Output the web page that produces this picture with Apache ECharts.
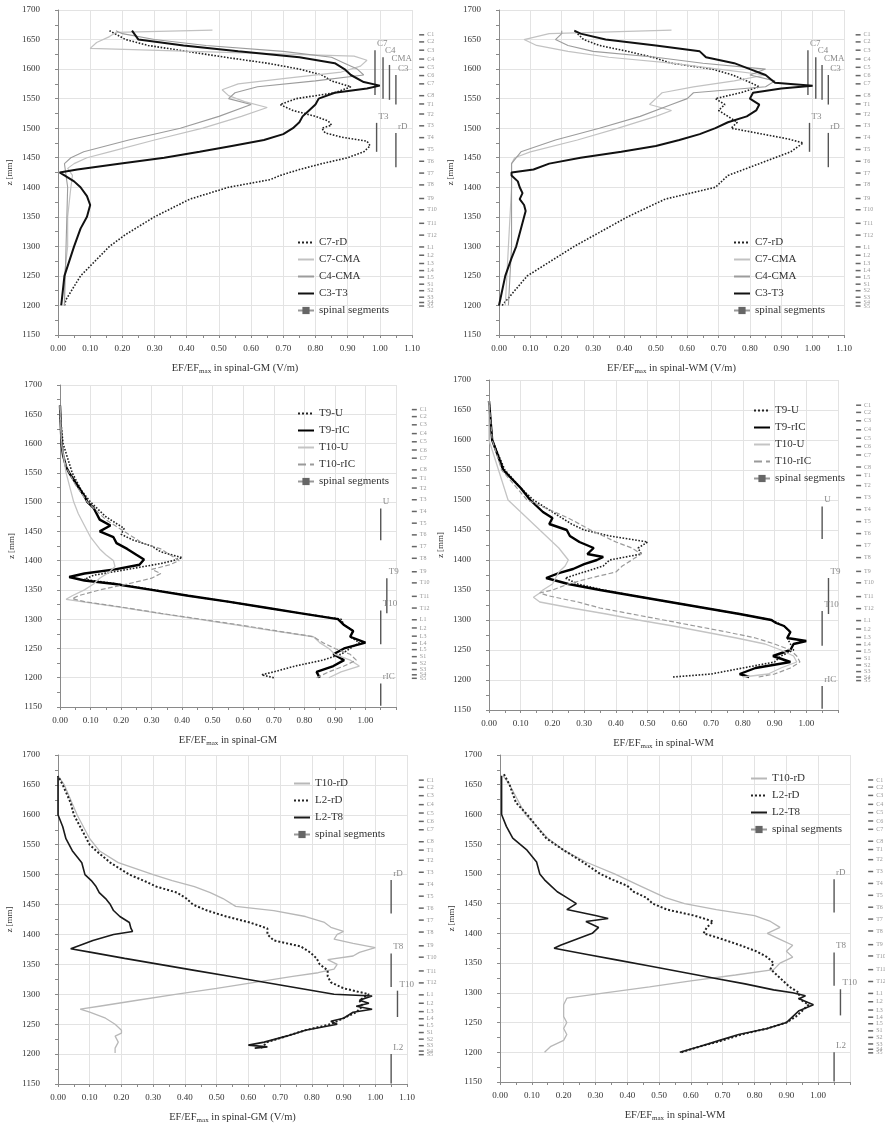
<!DOCTYPE html>
<html><head><meta charset="utf-8">
<script src="https://cdn.jsdelivr.net/npm/echarts@6/dist/echarts.min.js"></script>
<style>html,body{margin:0;padding:0;background:#fff}#c{width:885px;height:1126px}</style>
</head><body><div id="c"></div>
<script>
// ---------- DATA ----------
const xTicks = [0,0.1,0.2,0.3,0.4,0.5,0.6,0.7,0.8,0.9,1.0,1.1];
const yTicks = [1150,1200,1250,1300,1350,1400,1450,1500,1550,1600,1650,1700];
const segNames = ['C1','C2','C3','C4','C5','C6','C7','C8','T1','T2','T3','T4','T5','T6','T7','T8','T9','T10','T11','T12','L1','L2','L3','L4','L5','S1','S2','S3','S4','S5'];
const segZ = [1658,1646,1632,1617,1603,1589,1575,1555,1541,1524,1504,1484,1464,1444,1424,1404,1381,1362,1339,1319,1299,1285,1271,1259,1248,1236,1225,1214,1205,1199];

// electrodes: [label, z top, z bottom]
const elecCerv = [['C7',1632,1556],['C4',1620,1550],['CMA',1607,1548],['C3',1590,1540],['T3',1509,1460],['rD',1492,1434]];
const elecThor = [['U',1489,1435],['T9',1370,1310],['T10',1315,1257],['rIC',1190,1152]];
const elecLumb = [['rD',1491,1435],['T8',1368,1312],['T10',1306,1262],['L2',1200,1151]];

// curves: [z (mm), EF/EFmax]
const gmC_C7_rD = [[1200,0.02],[1210,0.025],[1250,0.07],[1300,0.16],[1320,0.21],[1350,0.30],[1380,0.41],[1400,0.53],[1413,0.66],[1420,0.69],[1430,0.75],[1440,0.82],[1450,0.90],[1460,0.95],[1470,0.97],[1478,0.96],[1485,0.88],[1492,0.83],[1500,0.82],[1505,0.85],[1512,0.84],[1520,0.80],[1530,0.73],[1540,0.69],[1550,0.74],[1560,0.86],[1570,0.91],[1580,0.85],[1590,0.82],[1600,0.75],[1610,0.65],[1620,0.52],[1630,0.40],[1640,0.28],[1650,0.21],[1665,0.16]];
const gmC_C7_CMA = [[1200,0.02],[1250,0.02],[1300,0.03],[1350,0.03],[1400,0.04],[1420,0.045],[1432,0.03],[1440,0.05],[1450,0.09],[1460,0.16],[1480,0.30],[1500,0.45],[1520,0.57],[1535,0.65],[1545,0.58],[1555,0.53],[1565,0.51],[1575,0.56],[1585,0.72],[1595,0.88],[1605,0.94],[1615,0.96],[1622,0.92],[1628,0.55],[1635,0.10],[1645,0.12],[1655,0.16],[1662,0.18],[1666,0.48]];
const gmC_C4_CMA = [[1200,0.02],[1300,0.025],[1400,0.03],[1440,0.02],[1450,0.04],[1460,0.08],[1480,0.22],[1500,0.38],[1520,0.50],[1540,0.60],[1550,0.53],[1560,0.55],[1570,0.62],[1580,0.80],[1590,0.95],[1600,0.93],[1610,0.89],[1620,0.85],[1630,0.70],[1640,0.46],[1650,0.30],[1660,0.20],[1665,0.18]];
const gmC_C3_T3 = [[1200,0.01],[1250,0.02],[1300,0.05],[1330,0.07],[1350,0.09],[1370,0.10],[1385,0.09],[1400,0.07],[1410,0.05],[1420,0.02],[1425,0.005],[1430,0.06],[1440,0.19],[1450,0.33],[1460,0.44],[1470,0.54],[1480,0.64],[1490,0.70],[1500,0.73],[1510,0.75],[1520,0.76],[1530,0.78],[1540,0.80],[1550,0.81],[1560,0.86],[1567,0.96],[1572,1.0],[1578,0.95],[1590,0.91],[1600,0.89],[1610,0.86],[1620,0.75],[1630,0.56],[1640,0.39],[1650,0.25],[1665,0.23]];

const wmC_C7_rD = [[1200,0.01],[1250,0.09],[1300,0.24],[1350,0.41],[1380,0.53],[1400,0.69],[1420,0.73],[1440,0.83],[1460,0.93],[1475,0.97],[1482,0.92],[1490,0.84],[1500,0.74],[1510,0.76],[1520,0.73],[1530,0.70],[1540,0.72],[1550,0.69],[1560,0.77],[1570,0.83],[1580,0.79],[1590,0.745],[1600,0.68],[1610,0.55],[1620,0.49],[1630,0.41],[1640,0.32],[1650,0.27],[1665,0.24]];
const wmC_C7_CMA = [[1200,0.02],[1300,0.03],[1400,0.04],[1440,0.04],[1450,0.05],[1460,0.10],[1480,0.25],[1500,0.38],[1520,0.50],[1530,0.55],[1540,0.48],[1550,0.50],[1560,0.52],[1570,0.62],[1580,0.75],[1590,0.85],[1600,0.70],[1610,0.55],[1620,0.35],[1630,0.22],[1640,0.12],[1650,0.08],[1660,0.16],[1666,0.55]];
const wmC_C4_CMA = [[1200,0.03],[1300,0.04],[1400,0.04],[1440,0.04],[1460,0.07],[1480,0.18],[1500,0.32],[1520,0.45],[1540,0.55],[1550,0.60],[1560,0.62],[1570,0.85],[1580,0.88],[1590,0.80],[1600,0.85],[1610,0.65],[1620,0.50],[1630,0.30],[1640,0.22],[1650,0.18],[1660,0.20],[1665,0.20]];
const wmC_C3_T3 = [[1200,0.0],[1250,0.02],[1280,0.04],[1300,0.055],[1320,0.065],[1340,0.075],[1360,0.085],[1370,0.08],[1380,0.066],[1390,0.075],[1400,0.066],[1410,0.06],[1420,0.04],[1425,0.04],[1430,0.11],[1440,0.16],[1450,0.26],[1460,0.39],[1470,0.50],[1480,0.575],[1490,0.64],[1500,0.69],[1510,0.73],[1520,0.79],[1530,0.82],[1540,0.83],[1550,0.80],[1560,0.81],[1567,0.90],[1572,1.0],[1577,0.88],[1590,0.85],[1600,0.80],[1610,0.75],[1620,0.66],[1630,0.64],[1640,0.50],[1650,0.34],[1660,0.26],[1665,0.24]];

const gmT_T9_U = [[1200,0.70],[1205,0.66],[1210,0.70],[1220,0.77],[1230,0.86],[1240,0.92],[1250,0.95],[1260,0.98],[1270,0.95],[1280,0.96],[1290,0.93],[1300,0.92],[1310,0.79],[1320,0.67],[1330,0.55],[1340,0.42],[1350,0.31],[1360,0.19],[1368,0.08],[1375,0.11],[1385,0.22],[1395,0.33],[1400,0.37],[1405,0.40],[1415,0.33],[1425,0.30],[1435,0.24],[1445,0.20],[1455,0.21],[1465,0.18],[1475,0.15],[1490,0.12],[1500,0.10],[1520,0.07],[1550,0.04],[1600,0.01],[1650,0.0],[1665,0.0]];
const gmT_T9_rIC = [[1200,0.85],[1210,0.84],[1220,0.895],[1230,0.93],[1240,0.895],[1250,0.93],[1260,1.0],[1270,0.95],[1280,0.96],[1290,0.93],[1300,0.91],[1310,0.79],[1320,0.67],[1330,0.55],[1340,0.42],[1350,0.30],[1360,0.18],[1366,0.08],[1372,0.03],[1378,0.08],[1385,0.18],[1393,0.26],[1402,0.275],[1410,0.25],[1420,0.22],[1430,0.185],[1440,0.175],[1450,0.13],[1460,0.165],[1470,0.13],[1480,0.12],[1490,0.11],[1500,0.09],[1510,0.08],[1530,0.055],[1550,0.03],[1560,0.02],[1580,0.01],[1600,0.005],[1665,0.0]];
const gmT_T10_U = [[1200,0.88],[1210,0.92],[1220,0.98],[1230,0.95],[1240,0.90],[1250,0.88],[1260,0.85],[1270,0.83],[1280,0.70],[1290,0.58],[1300,0.45],[1310,0.325],[1320,0.20],[1327,0.11],[1334,0.02],[1340,0.04],[1350,0.08],[1360,0.11],[1370,0.13],[1380,0.16],[1390,0.18],[1400,0.175],[1410,0.15],[1420,0.13],[1440,0.10],[1460,0.08],[1480,0.06],[1500,0.045],[1550,0.02],[1600,0.005],[1665,0.0]];
const gmT_T10_rIC = [[1200,0.84],[1210,0.88],[1220,0.93],[1230,0.97],[1240,0.95],[1250,0.90],[1260,0.86],[1270,0.83],[1280,0.71],[1290,0.59],[1300,0.46],[1310,0.33],[1320,0.21],[1330,0.08],[1335,0.04],[1340,0.06],[1350,0.13],[1360,0.22],[1370,0.30],[1378,0.33],[1385,0.30],[1393,0.36],[1400,0.39],[1410,0.36],[1420,0.33],[1430,0.27],[1440,0.24],[1450,0.21],[1460,0.18],[1470,0.15],[1490,0.11],[1500,0.09],[1530,0.05],[1560,0.02],[1600,0.005],[1665,0.0]];

const wmT_T9_U = [[1205,0.58],[1210,0.70],[1220,0.80],[1230,0.90],[1240,0.92],[1250,0.96],[1260,0.95],[1270,0.94],[1280,0.95],[1290,0.93],[1300,0.89],[1310,0.79],[1320,0.68],[1330,0.57],[1340,0.46],[1350,0.36],[1360,0.28],[1370,0.24],[1380,0.30],[1390,0.36],[1400,0.38],[1410,0.48],[1420,0.47],[1430,0.50],[1440,0.38],[1450,0.30],[1460,0.26],[1470,0.23],[1480,0.20],[1500,0.14],[1520,0.10],[1550,0.05],[1600,0.01],[1665,0.0]];
const wmT_T9_rIC = [[1205,0.82],[1210,0.79],[1220,0.84],[1230,0.95],[1240,0.895],[1250,0.95],[1260,0.96],[1265,1.0],[1270,0.94],[1280,0.95],[1290,0.93],[1295,0.905],[1300,0.89],[1310,0.79],[1320,0.68],[1330,0.57],[1340,0.46],[1350,0.35],[1360,0.25],[1370,0.18],[1378,0.22],[1385,0.265],[1393,0.30],[1400,0.34],[1405,0.36],[1410,0.31],[1420,0.33],[1430,0.285],[1440,0.255],[1450,0.245],[1460,0.19],[1470,0.20],[1480,0.17],[1500,0.13],[1520,0.10],[1550,0.045],[1600,0.01],[1665,0.0]];
const wmT_T10_U = [[1205,0.80],[1210,0.88],[1220,0.92],[1230,0.97],[1240,0.96],[1250,0.92],[1260,0.87],[1270,0.78],[1280,0.68],[1290,0.58],[1300,0.47],[1310,0.37],[1320,0.26],[1330,0.16],[1338,0.14],[1345,0.16],[1350,0.17],[1360,0.20],[1370,0.21],[1380,0.22],[1390,0.24],[1400,0.25],[1420,0.22],[1440,0.18],[1460,0.14],[1480,0.10],[1500,0.06],[1550,0.03],[1600,0.0],[1665,0.0]];
const wmT_T10_rIC = [[1205,0.85],[1210,0.90],[1220,0.95],[1230,0.98],[1240,0.97],[1250,0.95],[1260,0.90],[1270,0.84],[1280,0.75],[1290,0.65],[1300,0.55],[1310,0.45],[1320,0.35],[1330,0.28],[1340,0.19],[1345,0.16],[1350,0.20],[1360,0.25],[1370,0.32],[1380,0.40],[1390,0.42],[1400,0.45],[1410,0.48],[1420,0.45],[1430,0.40],[1450,0.32],[1470,0.25],[1500,0.12],[1550,0.04],[1600,0.01],[1665,0.0]];

const gmL_T10_rD = [[1202,0.18],[1210,0.18],[1220,0.19],[1230,0.18],[1235,0.20],[1240,0.20],[1250,0.18],[1260,0.15],[1270,0.10],[1275,0.07],[1280,0.13],[1290,0.25],[1300,0.37],[1310,0.50],[1320,0.62],[1330,0.74],[1336,0.82],[1342,0.87],[1350,0.88],[1358,0.85],[1364,0.93],[1370,0.95],[1378,1.0],[1385,0.93],[1392,0.87],[1400,0.88],[1405,0.90],[1412,0.86],[1420,0.84],[1430,0.78],[1440,0.68],[1447,0.56],[1460,0.52],[1470,0.48],[1480,0.43],[1490,0.36],[1500,0.30],[1520,0.19],[1540,0.13],[1560,0.10],[1580,0.08],[1600,0.06],[1650,0.02],[1665,0.0]];
const gmL_L2_rD = [[1210,0.64],[1220,0.66],[1230,0.72],[1240,0.78],[1250,0.86],[1260,0.90],[1270,0.94],[1280,0.96],[1290,0.95],[1300,0.98],[1310,0.90],[1320,0.86],[1330,0.85],[1340,0.85],[1350,0.825],[1360,0.815],[1370,0.795],[1380,0.765],[1390,0.68],[1400,0.66],[1410,0.66],[1420,0.605],[1430,0.53],[1440,0.47],[1450,0.425],[1460,0.405],[1470,0.375],[1480,0.31],[1490,0.27],[1500,0.225],[1520,0.165],[1540,0.12],[1550,0.10],[1560,0.09],[1580,0.07],[1600,0.05],[1620,0.04],[1650,0.015],[1665,0.0]];
const gmL_L2_T8 = [[1210,0.62],[1212,0.66],[1215,0.60],[1220,0.65],[1230,0.72],[1240,0.78],[1245,0.83],[1250,0.88],[1255,0.86],[1260,0.90],[1270,0.93],[1275,0.99],[1280,0.94],[1285,0.98],[1290,0.95],[1297,0.99],[1300,0.87],[1310,0.76],[1320,0.65],[1330,0.54],[1340,0.43],[1350,0.32],[1360,0.21],[1370,0.105],[1376,0.04],[1382,0.07],[1390,0.11],[1400,0.175],[1405,0.235],[1410,0.23],[1420,0.225],[1430,0.195],[1440,0.175],[1450,0.165],[1460,0.15],[1470,0.13],[1480,0.12],[1490,0.105],[1500,0.085],[1520,0.075],[1540,0.045],[1560,0.025],[1580,0.015],[1600,0.0],[1665,0.0]];

const wmL_T10_rD = [[1200,0.14],[1210,0.16],[1220,0.20],[1230,0.21],[1240,0.20],[1250,0.21],[1260,0.20],[1270,0.20],[1280,0.20],[1291,0.21],[1300,0.33],[1310,0.47],[1320,0.60],[1330,0.74],[1339,0.86],[1350,0.88],[1360,0.92],[1370,0.90],[1380,0.92],[1390,0.88],[1400,0.84],[1410,0.88],[1420,0.85],[1430,0.80],[1440,0.68],[1450,0.58],[1460,0.52],[1480,0.44],[1500,0.36],[1520,0.27],[1540,0.20],[1560,0.15],[1600,0.08],[1650,0.03],[1665,0.01]];
const wmL_L2_rD = [[1200,0.57],[1210,0.63],[1220,0.70],[1230,0.76],[1240,0.84],[1250,0.90],[1260,0.93],[1270,0.95],[1280,0.97],[1290,0.94],[1300,0.94],[1310,0.91],[1320,0.89],[1330,0.87],[1340,0.85],[1350,0.86],[1360,0.84],[1370,0.805],[1380,0.755],[1390,0.70],[1400,0.64],[1410,0.65],[1420,0.67],[1430,0.61],[1440,0.525],[1450,0.48],[1460,0.46],[1470,0.42],[1480,0.40],[1490,0.355],[1500,0.315],[1520,0.26],[1540,0.20],[1560,0.145],[1580,0.115],[1600,0.085],[1620,0.05],[1650,0.03],[1670,0.01]];
const wmL_L2_T8 = [[1200,0.565],[1210,0.63],[1220,0.69],[1230,0.75],[1240,0.84],[1250,0.90],[1260,0.92],[1270,0.94],[1280,0.985],[1290,0.94],[1295,0.96],[1300,0.92],[1305,0.86],[1315,0.77],[1325,0.67],[1335,0.57],[1345,0.47],[1355,0.37],[1365,0.27],[1375,0.17],[1380,0.19],[1390,0.24],[1400,0.29],[1410,0.31],[1420,0.27],[1425,0.34],[1430,0.30],[1440,0.21],[1450,0.24],[1460,0.21],[1470,0.18],[1480,0.16],[1490,0.14],[1500,0.125],[1520,0.115],[1540,0.085],[1560,0.04],[1580,0.02],[1600,0.005],[1665,0.005]];

// ---------- LAYOUT / STYLE ----------
const FONT = '"Liberation Serif","DejaVu Serif",serif';
const grids = [
  {left:58, top:10, width:354, height:325},
  {left:499, top:10, width:345, height:325},
  {left:60, top:385, width:336, height:322},
  {left:489, top:380, width:349, height:330},
  {left:58, top:755, width:349, height:329},
  {left:500, top:755, width:350, height:327}
];
const xNames = [
  'EF/EF{s|max} in spinal-GM (V/m)','EF/EF{s|max} in spinal-WM (V/m)',
  'EF/EF{s|max} in spinal-GM','EF/EF{s|max} in spinal-WM',
  'EF/EF{s|max} in spinal-GM (V/m)','EF/EF{s|max} in spinal-WM'
];
const showLast = [true,true,false,false,true,false];
const segX = [1.13,1.145,1.16,1.165,1.145,1.165];
const elecX = {
  cerv:[0.985,1.01,1.03,1.05,0.99,1.05],
  thor:[1.05,1.07,1.05,1.05],
  lumb:[1.05,1.05,1.07,1.05]
};
const legendPos = [
  {left:292, top:232},{left:728, top:232},
  {left:292, top:403},{left:748, top:400},
  {left:288, top:773},{left:745, top:768}
];

const S = {
  C7_rD:{color:'#222', width:1.6, type:'dotted'},
  C7_CMA:{color:'#c2c2c2', width:1.2, type:'solid'},
  C4_CMA:{color:'#9c9c9c', width:1.1, type:'solid'},
  C3_T3:{color:'#111', width:2, type:'solid'},
  T9_U:{color:'#222', width:1.6, type:'dotted'},
  T9_rIC:{color:'#000', width:2.4, type:'solid'},
  T10_U:{color:'#c4c4c4', width:1.3, type:'solid'},
  T10_rIC:{color:'#9a9a9a', width:1.2, type:'dashed'},
  T10_rD:{color:'#b8b8b8', width:1.3, type:'solid'},
  L2_rD:{color:'#222', width:2, type:'dotted'},
  L2_T8:{color:'#1a1a1a', width:1.6, type:'solid'}
};

function curve(name, pairs, idx, st){
  return {type:'line', name, xAxisIndex:idx, yAxisIndex:idx,
    data: pairs.map(p=>[p[1],p[0]]), symbol:'none', animation:false,
    lineStyle:{color:st.color, width:st.width, type:st.type},
    itemStyle:{color:st.color}, z:3};
}
function segSeries(idx){
  return {type:'line', name:'spinal segments', xAxisIndex:idx, yAxisIndex:idx, clip:false, animation:false,
    data: segZ.map(z=>[segX[idx], z]), symbol:'rect', symbolSize:[5,1.5], showSymbol:true,
    lineStyle:{color:'#999', width:1}, itemStyle:{color:'#666'},
    label:{show:true, position:'right', distance:3, fontSize:6, color:'#999', fontFamily:FONT,
      formatter:p=>segNames[p.dataIndex]}, labelLayout:{hideOverlap:false}, z:2};
}
function elecSeries(idx, list, xs){
  return {type:'custom', name:'electrodes'+idx, xAxisIndex:idx, yAxisIndex:idx, clip:false, silent:true, animation:false,
    data: list.map((e,k)=>[xs[k], e[1], e[2], k]),
    encode:{x:0, y:[1,2]},
    renderItem:(params, api)=>{
      const x=api.value(0), k=api.value(3);
      const p1=api.coord([x, api.value(1)]), p2=api.coord([x, api.value(2)]);
      return {type:'group', children:[
        {type:'line', shape:{x1:p1[0],y1:p1[1],x2:p2[0],y2:p2[1]}, style:{stroke:'#555', lineWidth:1.4}},
        {type:'text', x:p1[0]+2, y:p1[1]-2, style:{text:list[k][0], fill:'#888', fontSize:9, fontFamily:FONT, textAlign:'left', textVerticalAlign:'bottom'}}
      ]};
    }, z:2};
}

const xAxes = grids.map((g,i)=>({
  type:'value', gridIndex:i, min:0, max:1.1, interval:0.1,
  axisLine:{show:true, onZero:false, lineStyle:{color:'#8a8a8a'}},
  axisTick:{show:true, length:3, lineStyle:{color:'#8a8a8a'}},
  minorTick:{show:true, splitNumber:2, length:3, lineStyle:{color:'#8a8a8a'}},
  splitLine:{show:true, lineStyle:{color:'#e3e3e3'}},
  axisLabel:{fontSize:9, fontFamily:FONT, color:'#333', margin:9,
    formatter:v=>(!showLast[i] && v>1.05) ? '' : v.toFixed(2)},
  name:xNames[i], nameLocation:'middle', nameGap:26,
  nameTextStyle:{fontSize:10.5, fontFamily:FONT, color:'#333',
    rich:{s:{fontSize:7, fontFamily:FONT, color:'#333', padding:[7,0,0,0]}}}
}));
const yAxes = grids.map((g,i)=>({
  type:'value', gridIndex:i, min:1150, max:1700, interval:50,
  axisLine:{show:true, onZero:false, lineStyle:{color:'#8a8a8a'}},
  axisTick:{show:true, length:3, lineStyle:{color:'#8a8a8a'}},
  minorTick:{show:true, splitNumber:2, length:3, lineStyle:{color:'#8a8a8a'}},
  splitLine:{show:true, lineStyle:{color:'#e3e3e3'}},
  axisLabel:{fontSize:9, fontFamily:FONT, color:'#333', margin:18, formatter:v=>String(v)},
  name:'z [mm]', nameLocation:'middle', nameGap:44, nameRotate:90,
  nameTextStyle:{fontSize:9, fontFamily:FONT, color:'#333'}
}));

const series = [
  curve('C7-rD', gmC_C7_rD, 0, S.C7_rD), curve('C7-CMA', gmC_C7_CMA, 0, S.C7_CMA),
  curve('C4-CMA', gmC_C4_CMA, 0, S.C4_CMA), curve('C3-T3', gmC_C3_T3, 0, S.C3_T3),
  curve('C7-rD', wmC_C7_rD, 1, S.C7_rD), curve('C7-CMA', wmC_C7_CMA, 1, S.C7_CMA),
  curve('C4-CMA', wmC_C4_CMA, 1, S.C4_CMA), curve('C3-T3', wmC_C3_T3, 1, S.C3_T3),
  curve('T9-U', gmT_T9_U, 2, S.T9_U), curve('T9-rIC', gmT_T9_rIC, 2, S.T9_rIC),
  curve('T10-U', gmT_T10_U, 2, S.T10_U), curve('T10-rIC', gmT_T10_rIC, 2, S.T10_rIC),
  curve('T9-U', wmT_T9_U, 3, S.T9_U), curve('T9-rIC', wmT_T9_rIC, 3, S.T9_rIC),
  curve('T10-U', wmT_T10_U, 3, S.T10_U), curve('T10-rIC', wmT_T10_rIC, 3, S.T10_rIC),
  curve('T10-rD', gmL_T10_rD, 4, S.T10_rD), curve('L2-rD', gmL_L2_rD, 4, S.L2_rD),
  curve('L2-T8', gmL_L2_T8, 4, S.L2_T8),
  curve('T10-rD', wmL_T10_rD, 5, S.T10_rD), curve('L2-rD', wmL_L2_rD, 5, S.L2_rD),
  curve('L2-T8', wmL_L2_T8, 5, S.L2_T8)
];
for (let i=0;i<6;i++) series.push(segSeries(i));
series.push(elecSeries(0, elecCerv, elecX.cerv), elecSeries(1, elecCerv, elecX.cerv));
series.push(elecSeries(2, elecThor, elecX.thor), elecSeries(3, elecThor, elecX.thor));
series.push(elecSeries(4, elecLumb, elecX.lumb), elecSeries(5, elecLumb, elecX.lumb));

const legendNames = [
  ['C7-rD','C7-CMA','C4-CMA','C3-T3','spinal segments'],
  ['C7-rD','C7-CMA','C4-CMA','C3-T3','spinal segments'],
  ['T9-U','T9-rIC','T10-U','T10-rIC','spinal segments'],
  ['T9-U','T9-rIC','T10-U','T10-rIC','spinal segments'],
  ['T10-rD','L2-rD','L2-T8','spinal segments'],
  ['T10-rD','L2-rD','L2-T8','spinal segments']
];
const legends = legendNames.map((names,i)=>({
  orient:'vertical', left:legendPos[i].left, top:legendPos[i].top,
  data:names.map(n=>n==='spinal segments' ? {name:n} : {name:n, itemStyle:{opacity:0}}),
  itemWidth:16, itemHeight:9, itemGap:6, selectedMode:false,
  textStyle:{fontSize:11, fontFamily:FONT, color:'#333'}
}));

const chart = echarts.init(document.getElementById('c'), null, {renderer:'canvas'});
chart.setOption({
  backgroundColor:'#fff', animation:false,
  grid:grids, xAxis:xAxes, yAxis:yAxes, legend:legends, series
});
</script></body></html>
